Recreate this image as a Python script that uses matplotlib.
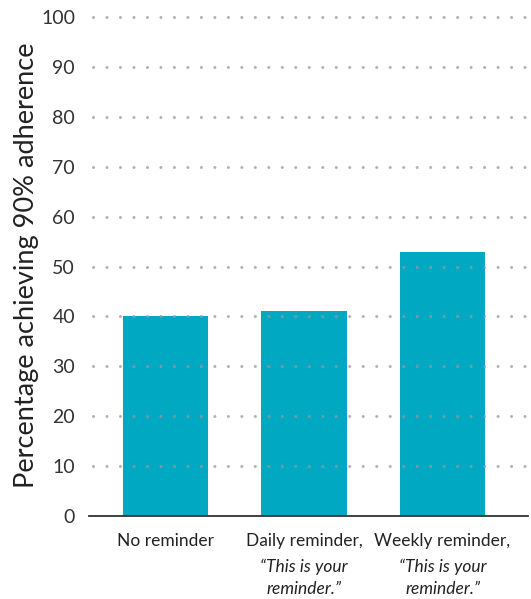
import matplotlib
matplotlib.use("Agg")
import matplotlib.pyplot as plt
import matplotlib.transforms as mtransforms

# data
categories = ["No reminder", "Daily reminder,", "Weekly reminder,"]
subtitles = ["", "\u201cThis is your\nreminder.\u201d", "\u201cThis is your\nreminder.\u201d"]
values = [40, 41, 53]
yticks = [0, 10, 20, 30, 40, 50, 60, 70, 80, 90, 100]
ylabel = "Percentage achieving 90% adherence"

bar_color = "#00a9c1"
plt.rcParams['font.family'] = ['Lato', 'DejaVu Sans']
plt.rcParams['lines.scale_dashes'] = False

fig = plt.figure(figsize=(5.31, 5.99), dpi=100)
ax = fig.add_axes([89/531, 83/599, (528-89)/531, (516-17)/599])

x = list(range(len(categories)))
ax.bar(x, values, width=0.614, color=bar_color, zorder=2)

ax.set_xlim(-0.552, 2.617)
ax.set_ylim(0, 100)

# dotted gridlines drawn over the bars
for t in yticks[1:]:
    ax.plot([-0.52, 2.617], [t, t], color="#999999", alpha=0.75, lw=2.2,
            linestyle=(0, (0.01, 9.7)), dash_capstyle='round', zorder=3,
            clip_on=False)

for s in ["top", "right", "left"]:
    ax.spines[s].set_visible(False)
ax.spines["bottom"].set_color("#333333")
ax.spines["bottom"].set_linewidth(1.3)

ax.set_yticks(yticks)
ax.set_yticklabels([str(t) for t in yticks], fontsize=14, color="#333333")
ax.tick_params(axis='y', length=0, pad=10)
ax.set_xticks(x)
ax.set_xticklabels(categories, fontsize=12.5, color="#222222")
ax.tick_params(axis='x', length=0, pad=12)

trans = mtransforms.blended_transform_factory(ax.transData, fig.transFigure)
for i, sub in enumerate(subtitles):
    if sub:
        ax.text(i, 1 - 559/599, sub, transform=trans, ha='center', va='top',
                fontsize=12.5, style='italic', color="#222222", linespacing=1.45)

fig.text(27/531, 1 - 265/599, ylabel, rotation=90, ha='center', va='center',
         fontsize=19.5, color="#222222")

fig.savefig("out.png", dpi=100)
